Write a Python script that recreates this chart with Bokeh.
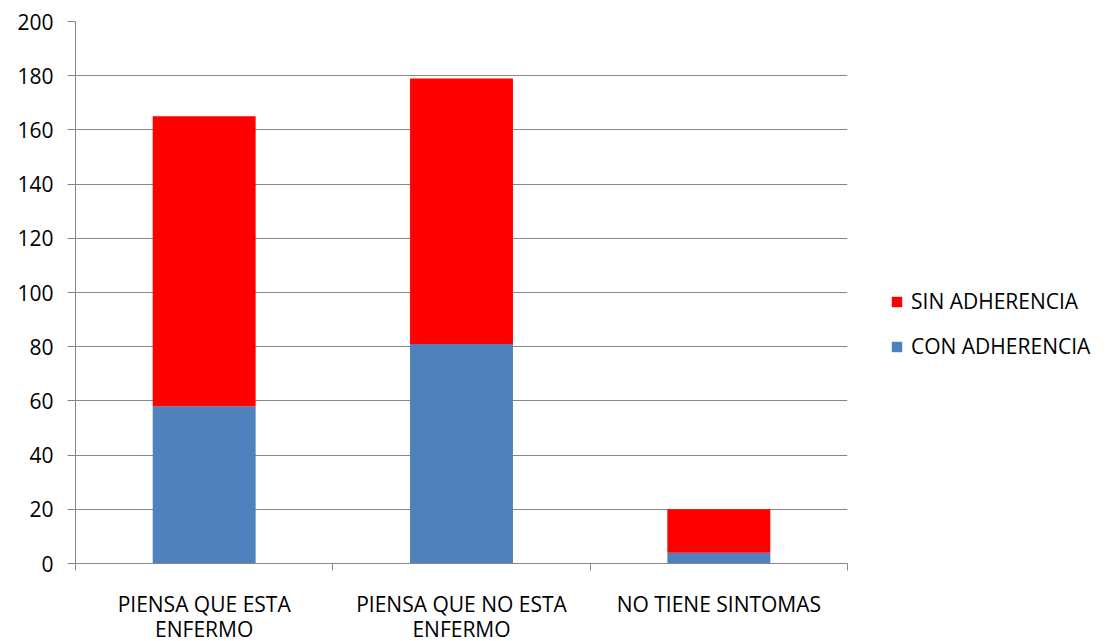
from bokeh.plotting import figure
from bokeh.models import (Range1d, FixedTicker, Legend, LegendItem, ColumnDataSource)
from bokeh.embed import file_html
from bokeh.resources import INLINE

categories = ["PIENSA QUE ESTA\nENFERMO", "PIENSA QUE NO ESTA\nENFERMO", "NO TIENE SINTOMAS"]
con_adherencia = [58, 81, 4]
sin_adherencia = [107, 98, 16]
y_ticks = [0, 20, 40, 60, 80, 100, 120, 140, 160, 180, 200]

FONT = "Open Sans"
GRID = "#868686"

xpos = [i + 0.5 for i in range(len(categories))]
source = ColumnDataSource(dict(x=xpos, con=con_adherencia, sin=sin_adherencia))

p = figure(frame_width=772, frame_height=542, output_backend="svg", toolbar_location=None,
           x_range=Range1d(0, len(categories)), y_range=Range1d(0, 200),
           min_border_left=75, min_border_right=265, min_border_top=21,
           min_border_bottom=60)
p.outline_line_color = None
p.background_fill_color = "white"
p.border_fill_color = "white"

renderers = p.vbar_stack(["con", "sin"], x="x", width=0.4, source=source,
                         color=["#4F81BD", "#FF0000"], line_color=None)

# y axis
p.yaxis.ticker = FixedTicker(ticks=y_ticks)
p.yaxis.axis_line_color = GRID
p.yaxis.major_tick_line_color = GRID
p.yaxis.major_tick_out = 8
p.yaxis.major_tick_in = 0
p.yaxis.minor_tick_line_color = None
p.yaxis.major_label_standoff = 14
p.yaxis.major_label_text_font = FONT
p.yaxis.major_label_text_font_size = "21px"
p.yaxis.major_label_text_color = "black"

# x axis: labels centred under bars, ticks on category boundaries
p.xaxis.ticker = FixedTicker(ticks=xpos, minor_ticks=list(range(len(categories) + 1)))
p.xaxis.major_label_overrides = {x: c for x, c in zip(xpos, categories)}
p.xaxis.major_tick_line_color = None
p.xaxis.minor_tick_line_color = GRID
p.xaxis.minor_tick_out = 7
p.xaxis.minor_tick_in = 0
p.xaxis.axis_line_color = GRID
p.xaxis.major_label_standoff = 19
p.xaxis.major_label_text_font = FONT
p.xaxis.major_label_text_font_size = "21px"
p.xaxis.major_label_text_color = "black"
p.xaxis.major_label_text_line_height = 0.9

p.xgrid.grid_line_color = None
p.ygrid.grid_line_color = GRID
p.ygrid.grid_line_width = 1

legend = Legend(items=[LegendItem(label="SIN ADHERENCIA", renderers=[renderers[1]]),
                       LegendItem(label="CON ADHERENCIA", renderers=[renderers[0]])],
                location=(43, 203), padding=0, margin=0, spacing=17,
                glyph_width=13, glyph_height=13, label_height=21,
                label_standoff=8, border_line_color=None,
                background_fill_alpha=0,
                label_text_font=FONT, label_text_font_size="21px",
                label_text_color="black")
p.add_layout(legend, "right")

open("out.html", "w").write(file_html(p, INLINE))
